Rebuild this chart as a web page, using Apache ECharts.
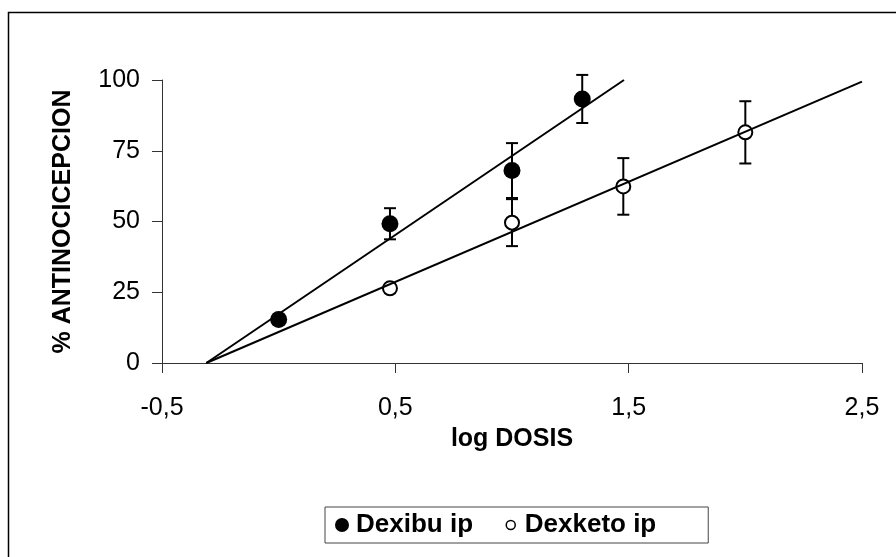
<!DOCTYPE html>
<html>
<head>
<meta charset="utf-8">
<script src="https://cdn.jsdelivr.net/npm/echarts@6/dist/echarts.min.js"></script>
<style>
  html, body { margin: 0; padding: 0; background: #fff; }
  #chart { width: 896px; height: 557px; }
</style>
</head>
<body>
<div id="chart"></div>
<script>
// datos
const dexibuX = [0, 0.477, 1, 1.301]
const dexibuY = [15.4, 49.2, 68.0, 93.3]
const dexibuSD = [1, 5.5, 9.7, 8.5]

const dexketoX = [0.477, 1, 1.477, 2]
const dexketoY = [26.4, 49.6, 62.4, 81.5]
const dexketoSD = [1.5, 8.3, 10, 11]

// rectas de regresion (extremos)
const dexibuFitX = [-0.31, 1.48]
const dexibuFitY = [0, 100]
const dexketoFitX = [-0.31, 2.5]
const dexketoFitY = [0, 99.4]

const xTicks = [-0.5, 0.5, 1.5, 2.5]
const yTicks = [0, 25, 50, 75, 100]

const font = 'Liberation Sans, Arial, sans-serif'

const chart = echarts.init(document.getElementById('chart'))

function zip (xs, ys) {
  return xs.map((x, i) => [x, ys[i]])
}

function errorBars (xs, ys, sds) {
  return xs.map((x, i) => [x, ys[i], sds[i]])
}

function renderError (params, api) {
  const x = api.value(0)
  const y = api.value(1)
  const sd = api.value(2)
  const top = api.coord([x, y + sd])
  const bottom = api.coord([x, y - sd])
  const w = 6
  const style = { stroke: '#000', lineWidth: 2 }
  return {
    type: 'group',
    children: [
      { type: 'line', shape: { x1: top[0], y1: top[1], x2: bottom[0], y2: bottom[1] }, style: style },
      { type: 'line', shape: { x1: top[0] - w, y1: top[1], x2: top[0] + w, y2: top[1] }, style: style },
      { type: 'line', shape: { x1: bottom[0] - w, y1: bottom[1], x2: bottom[0] + w, y2: bottom[1] }, style: style }
    ]
  }
}

const option = {
  animation: false,
  backgroundColor: '#fff',
  textStyle: { fontFamily: font },
  graphic: [
    {
      type: 'rect',
      left: 6,
      top: 10,
      shape: { width: 900, height: 560 },
      style: { fill: 'none', stroke: '#000', lineWidth: 1.5 },
      silent: true
    }
  ],
  grid: {
    left: 162,
    right: 34,
    top: 80,
    bottom: 194
  },
  legend: {
    left: 325,
    top: 507,
    orient: 'horizontal',
    borderColor: '#444',
    borderWidth: 1,
    padding: [5, 52, 5, 10],
    itemGap: 30,
    itemWidth: 14,
    itemHeight: 14,
    textStyle: { fontSize: 26, fontWeight: 'bold', color: '#000', fontFamily: font, padding: [0, 10, 0, 2] },
    data: [
      { name: 'Dexibu ip', icon: 'circle', itemStyle: { color: '#000', borderWidth: 0 } },
      {
        name: 'Dexketo ip',
        // circulo pequeno dentro de una caja de 14x14
        icon: 'path://M0,0M14,14M7,2.5A4.5,4.5,0,1,1,6.99,2.5Z',
        itemStyle: { color: '#fff', borderColor: '#000', borderWidth: 1.5 }
      }
    ]
  },
  xAxis: {
    type: 'value',
    min: xTicks[0],
    max: xTicks[xTicks.length - 1],
    interval: 1,
    name: 'log DOSIS',
    nameLocation: 'middle',
    nameGap: 64,
    nameTextStyle: { fontSize: 25, fontWeight: 'bold', color: '#000', fontFamily: font },
    axisLine: { onZero: false, lineStyle: { color: '#333', width: 1 } },
    axisTick: { length: 10, lineStyle: { color: '#333' } },
    splitLine: { show: false },
    axisLabel: {
      fontSize: 25,
      color: '#000',
      margin: 33,
      formatter: v => String(v).replace('.', ',')
    }
  },
  yAxis: {
    type: 'value',
    min: yTicks[0],
    max: yTicks[yTicks.length - 1],
    interval: 25,
    name: '% ANTINOCICEPCION',
    nameLocation: 'middle',
    nameGap: 86,
    nameTextStyle: { fontSize: 25, fontWeight: 'bold', color: '#000', fontFamily: font },
    axisLine: { show: true, onZero: false, lineStyle: { color: '#333', width: 1 } },
    axisTick: { show: true, length: 10, lineStyle: { color: '#333' } },
    splitLine: { show: false },
    axisLabel: { fontSize: 25, color: '#000', margin: 22 }
  },
  series: [
    {
      name: 'err1',
      type: 'custom',
      renderItem: renderError,
      data: errorBars(dexibuX, dexibuY, dexibuSD),
      z: 1
    },
    {
      name: 'err2',
      type: 'custom',
      renderItem: renderError,
      data: errorBars(dexketoX, dexketoY, dexketoSD),
      z: 1
    },
    {
      name: 'Dexibu ip',
      type: 'scatter',
      symbol: 'circle',
      symbolSize: 17,
      itemStyle: { color: '#000', opacity: 1 },
      data: zip(dexibuX, dexibuY),
      z: 2
    },
    {
      name: 'Dexketo ip',
      type: 'scatter',
      symbol: 'circle',
      symbolSize: 14,
      itemStyle: { color: '#fff', borderColor: '#000', borderWidth: 2, opacity: 1 },
      data: zip(dexketoX, dexketoY),
      z: 2
    },
    {
      name: 'fit1',
      type: 'line',
      showSymbol: false,
      lineStyle: { color: '#000', width: 2 },
      data: zip(dexibuFitX, dexibuFitY),
      z: 3
    },
    {
      name: 'fit2',
      type: 'line',
      showSymbol: false,
      lineStyle: { color: '#000', width: 2 },
      data: zip(dexketoFitX, dexketoFitY),
      z: 3
    }
  ]
}

chart.setOption(option)
</script>
</body>
</html>
